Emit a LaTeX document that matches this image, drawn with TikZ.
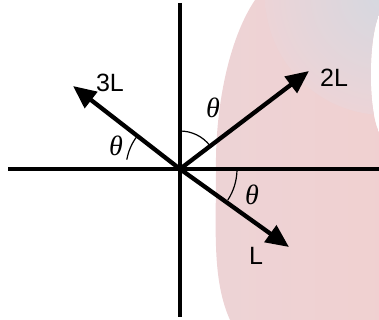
\documentclass[tikz,border=0pt]{standalone}
\usepackage{fontspec}
\newfontfamily\arialf{Liberation Sans}
\newfontfamily\timesf{Liberation Serif}
\usetikzlibrary{arrows.meta}
\definecolor{bgpink}{HTML}{ECD4D7}
\definecolor{bgpinkb}{HTML}{F2CFCE}
\definecolor{bggray}{HTML}{E0DDDD}
\definecolor{bgblue}{HTML}{D5D8E0}
\pgfdeclarehorizontalshading{blobshade}{100bp}{color(0bp)=(bggray); color(12bp)=(bgpink); color(100bp)=(bgpinkb)}
\begin{document}
\begin{tikzpicture}[x=1pt,y=-1pt,
  axis/.style={line width=4.3pt},
  vec/.style={line width=4.3pt,-{Triangle[length=23pt,width=20pt]}},
  ang/.style={line width=1.2pt},
  lab/.style={font=\arialf\fontsize{25}{28}\selectfont,inner sep=0pt},
  th/.style={font=\timesf\itshape\fontsize{28}{30}\selectfont,inner sep=0pt}]
\useasboundingbox (0,0) rectangle (379,320);
% background blob
\begin{scope}
\path[clip]
  (255,0) .. controls (228,40) and (215,110) .. (216,170)
  .. controls (216,230) and (212,280) .. (230,320) -- (379,320) -- (379,132)
  .. controls (368,110) and (368,40) .. (379,15) -- (379,0) -- cycle;
\shade[shading=blobshade] (210,0) rectangle (379,320);
\shade[inner color=bgblue, outer color=bgpink] (385,-5) circle (120);
\end{scope}
\coordinate (O) at (180,169);
\coordinate (T) at (180,3);
\coordinate (B) at (180,317);
\coordinate (Lft) at (8,169);
\coordinate (R) at (379,169);
\coordinate (A2) at (309,71);
\coordinate (A3) at (73,86);
\coordinate (A1) at (289,247);
\draw[axis] (T) -- (B);
\draw[axis] (Lft) -- (R);
\draw[vec] (O) -- (A2);
\draw[vec] (O) -- (A3);
\draw[vec] (O) -- (A1);
% angle arcs (y axis flipped)
\draw[ang] ([shift={(-143:54)}]O) arc[start angle=-143,end angle=-170,radius=54];
\draw[ang] ([shift={(-90:38)}]O) arc[start angle=-90,end angle=-38,radius=38];
\draw[ang] ([shift={(1:57)}]O) arc[start angle=1,end angle=33,radius=57];
\node[lab] (l3) at (110,83) {3L};
\node[lab] (l2) at (334,78) {2L};
\node[lab] (l1) at (256,256) {L};
\node[th] (t1) at (116,146) {θ};
\node[th] (t2) at (213,108) {θ};
\node[th] (t3) at (252,195) {θ};
\end{tikzpicture}
\end{document}
